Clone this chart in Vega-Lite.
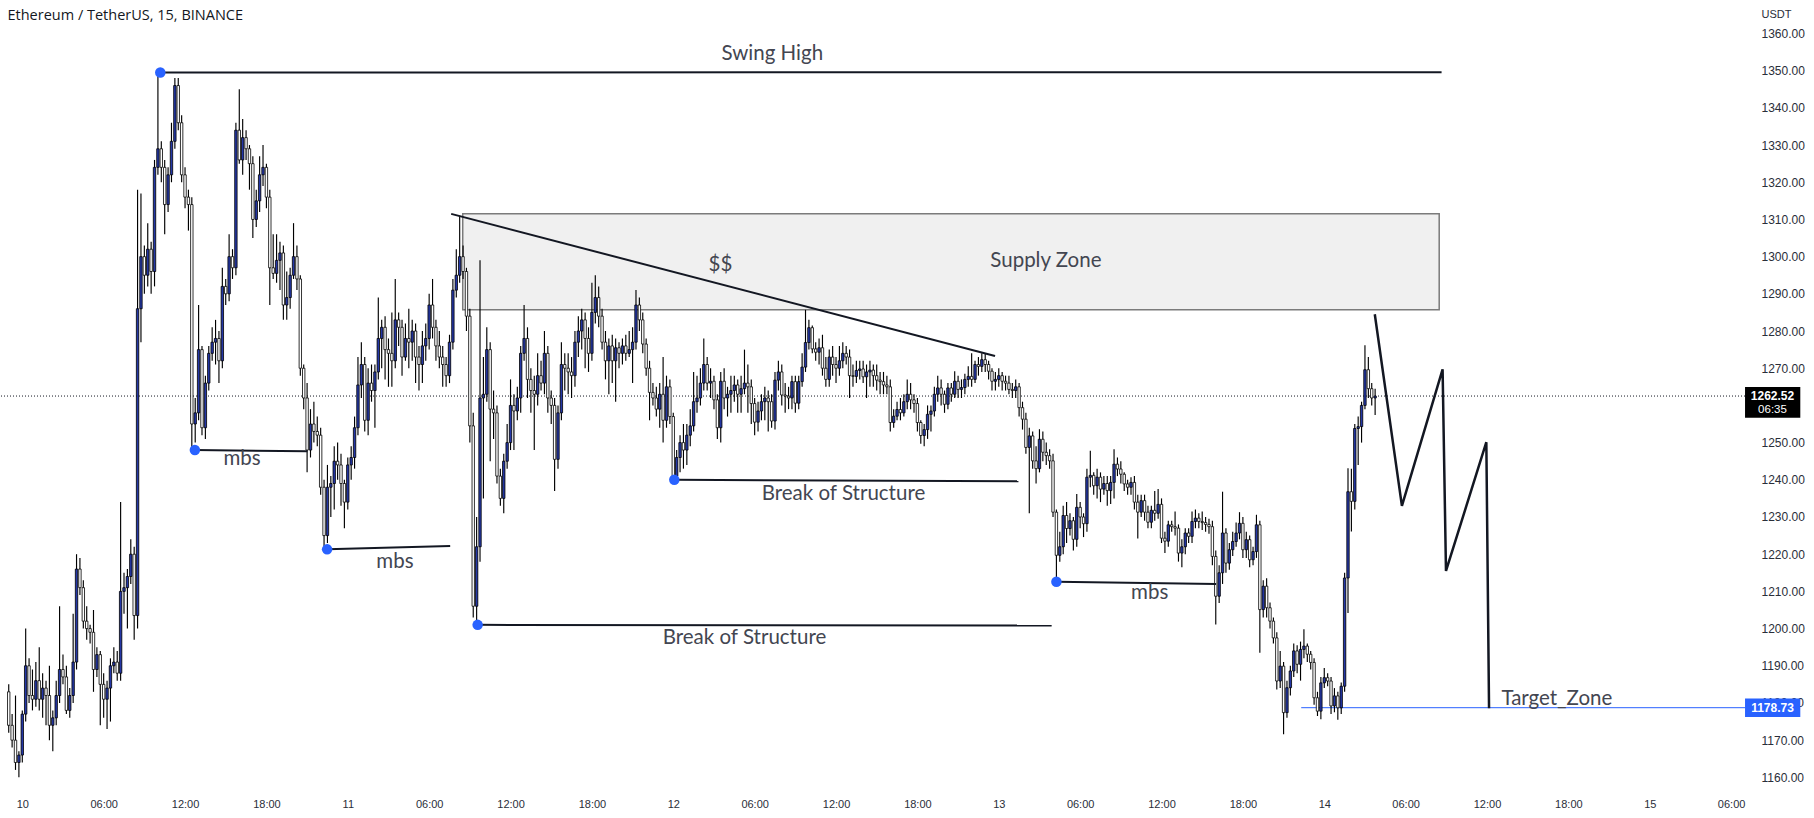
{
"$schema": "https://vega.github.io/schema/vega-lite/v6.json",
"width": 1748, "height": 790, "autosize": "none", "padding": {"left": 0, "top": 0, "right": 66, "bottom": 28}, "background": "white",
"title": {"text": "Ethereum / TetherUS, 15, BINANCE", "anchor": "start", "orient": "top", "offset": -30, "dx": 8, "fontSize": 14.5, "fontWeight": "normal", "font": "Open Sans", "color": "#131722", "baseline": "middle"},
"config": {"view": {"stroke": null}},
"resolve": {"axis": {"x": "independent", "y": "independent"}},
"datasets": {
"candles": [
{"i":-4,"o":1183,"h":1185,"l":1172,"c":1174},{"i":-3,"o":1174,"h":1177,"l":1168,"c":1170},{"i":-2,"o":1170,"h":1182,"l":1162,"c":1164},{"i":-1,"o":1164,"h":1167,"l":1160,"c":1166},
{"i":0,"o":1166,"h":1178,"l":1164,"c":1177},{"i":1,"o":1177,"h":1200,"l":1175,"c":1190},{"i":2,"o":1190,"h":1192,"l":1180,"c":1182},{"i":3,"o":1182,"h":1189,"l":1178,"c":1181},
{"i":4,"o":1181,"h":1191,"l":1179,"c":1186},{"i":5,"o":1186,"h":1195,"l":1178,"c":1181},{"i":6,"o":1181,"h":1188,"l":1176,"c":1184},{"i":7,"o":1184,"h":1186,"l":1174,"c":1182},
{"i":8,"o":1182,"h":1190,"l":1170,"c":1174},{"i":9,"o":1174,"h":1178,"l":1167,"c":1176},{"i":10,"o":1176,"h":1186,"l":1174,"c":1182},{"i":11,"o":1182,"h":1206,"l":1180,"c":1189},
{"i":12,"o":1189,"h":1193,"l":1185,"c":1187},{"i":13,"o":1187,"h":1190,"l":1177,"c":1178},{"i":14,"o":1178,"h":1184,"l":1176,"c":1182},{"i":15,"o":1182,"h":1204,"l":1180,"c":1191},
{"i":16,"o":1191,"h":1220,"l":1189,"c":1216},{"i":17,"o":1216,"h":1219,"l":1209,"c":1211},{"i":18,"o":1211,"h":1213,"l":1200,"c":1202},{"i":19,"o":1202,"h":1206,"l":1197,"c":1200},
{"i":20,"o":1200,"h":1201,"l":1196,"c":1199},{"i":21,"o":1199,"h":1205,"l":1183,"c":1189},{"i":22,"o":1189,"h":1195,"l":1187,"c":1193},{"i":23,"o":1193,"h":1194,"l":1174,"c":1185},
{"i":24,"o":1185,"h":1188,"l":1176,"c":1181},{"i":25,"o":1181,"h":1186,"l":1173,"c":1184},{"i":26,"o":1184,"h":1192,"l":1175,"c":1190},{"i":27,"o":1190,"h":1195,"l":1188,"c":1191},
{"i":28,"o":1191,"h":1194,"l":1186,"c":1188},{"i":29,"o":1188,"h":1234,"l":1186,"c":1210},{"i":30,"o":1210,"h":1215,"l":1204,"c":1211},{"i":31,"o":1211,"h":1216,"l":1200,"c":1214},
{"i":32,"o":1214,"h":1224,"l":1212,"c":1220},{"i":33,"o":1220,"h":1222,"l":1197,"c":1203.5},{"i":34,"o":1203.5,"h":1318,"l":1200,"c":1286},{"i":35,"o":1286,"h":1317,"l":1277,"c":1300},
{"i":36,"o":1300,"h":1303,"l":1290,"c":1295},{"i":37,"o":1295,"h":1309,"l":1292,"c":1302},{"i":38,"o":1302,"h":1304,"l":1290,"c":1296},{"i":39,"o":1296,"h":1326,"l":1292,"c":1324},
{"i":40,"o":1324,"h":1350,"l":1322,"c":1329},{"i":41,"o":1329,"h":1331,"l":1320,"c":1324},{"i":42,"o":1324,"h":1326,"l":1306,"c":1314},{"i":43,"o":1314,"h":1324,"l":1312,"c":1322},
{"i":44,"o":1322,"h":1336,"l":1320,"c":1331},{"i":45,"o":1331,"h":1348,"l":1329,"c":1346},{"i":46,"o":1346,"h":1348,"l":1334,"c":1336},{"i":47,"o":1336,"h":1338,"l":1320,"c":1322},
{"i":48,"o":1322,"h":1324,"l":1313,"c":1316},{"i":49,"o":1316,"h":1318,"l":1307,"c":1314},{"i":50,"o":1314,"h":1316,"l":1248,"c":1255},{"i":51,"o":1255,"h":1262,"l":1250,"c":1258},
{"i":52,"o":1258,"h":1287,"l":1256,"c":1275},{"i":53,"o":1275,"h":1276,"l":1252,"c":1254},{"i":54,"o":1254,"h":1268,"l":1251,"c":1266},{"i":55,"o":1266,"h":1276,"l":1264,"c":1274},
{"i":56,"o":1274,"h":1281,"l":1272,"c":1277},{"i":57,"o":1277,"h":1283,"l":1271,"c":1278},{"i":58,"o":1278,"h":1280,"l":1266,"c":1272},{"i":59,"o":1272,"h":1297,"l":1270,"c":1292},
{"i":60,"o":1292,"h":1294,"l":1287,"c":1290},{"i":61,"o":1290,"h":1306,"l":1288,"c":1300},{"i":62,"o":1300,"h":1302,"l":1294,"c":1297},{"i":63,"o":1297,"h":1336,"l":1295,"c":1334},
{"i":64,"o":1334,"h":1345,"l":1325,"c":1326},{"i":65,"o":1326,"h":1337,"l":1322,"c":1332},{"i":66,"o":1332,"h":1334,"l":1326,"c":1329},{"i":67,"o":1329,"h":1330,"l":1318,"c":1325},
{"i":68,"o":1325,"h":1327,"l":1305,"c":1310},{"i":69,"o":1310,"h":1318,"l":1308,"c":1315},{"i":70,"o":1315,"h":1327,"l":1312,"c":1322},{"i":71,"o":1322,"h":1330,"l":1319,"c":1324},
{"i":72,"o":1324,"h":1325,"l":1313,"c":1316},{"i":73,"o":1316,"h":1318,"l":1287,"c":1297},{"i":74,"o":1297,"h":1306,"l":1294,"c":1295.5},{"i":75,"o":1295.5,"h":1306,"l":1293,"c":1299},
{"i":76,"o":1299,"h":1304,"l":1291,"c":1301},{"i":77,"o":1301,"h":1303,"l":1283,"c":1287},{"i":78,"o":1287,"h":1296,"l":1283,"c":1289},{"i":79,"o":1289,"h":1297,"l":1286,"c":1295},
{"i":80,"o":1295,"h":1309,"l":1294,"c":1300},{"i":81,"o":1300,"h":1303,"l":1291,"c":1294},{"i":82,"o":1294,"h":1295,"l":1268,"c":1270},{"i":83,"o":1270,"h":1271,"l":1259,"c":1262},
{"i":84,"o":1262,"h":1266,"l":1242,"c":1248},{"i":85,"o":1248,"h":1259,"l":1246,"c":1255},{"i":86,"o":1255,"h":1261,"l":1250,"c":1253},{"i":87,"o":1253,"h":1257,"l":1249,"c":1252},
{"i":88,"o":1252,"h":1254,"l":1236,"c":1238},{"i":89,"o":1238,"h":1240,"l":1221,"c":1225},{"i":90,"o":1225,"h":1244,"l":1223,"c":1238},{"i":91,"o":1238,"h":1241,"l":1230,"c":1239},
{"i":92,"o":1239,"h":1249,"l":1232,"c":1245},{"i":93,"o":1245,"h":1250,"l":1240,"c":1244},{"i":94,"o":1244,"h":1247,"l":1233,"c":1239},{"i":95,"o":1239,"h":1240,"l":1227,"c":1234},
{"i":96,"o":1234,"h":1246,"l":1232,"c":1244},{"i":97,"o":1244,"h":1249,"l":1240,"c":1246},{"i":98,"o":1246,"h":1257,"l":1243,"c":1254},{"i":99,"o":1254,"h":1273,"l":1252,"c":1265.5},
{"i":100,"o":1265.5,"h":1277,"l":1262,"c":1271},{"i":101,"o":1271,"h":1273,"l":1253,"c":1256},{"i":102,"o":1256,"h":1270,"l":1252,"c":1266},{"i":103,"o":1266,"h":1271,"l":1261,"c":1264},
{"i":104,"o":1264,"h":1271,"l":1254,"c":1269},{"i":105,"o":1269,"h":1289,"l":1267,"c":1278},{"i":106,"o":1278,"h":1283,"l":1270,"c":1281},{"i":107,"o":1281,"h":1284,"l":1267,"c":1275},
{"i":108,"o":1275,"h":1278,"l":1265,"c":1274},{"i":109,"o":1274,"h":1285,"l":1265,"c":1272},{"i":110,"o":1272,"h":1294,"l":1270,"c":1283},{"i":111,"o":1283,"h":1285,"l":1276,"c":1281},
{"i":112,"o":1281,"h":1283,"l":1268,"c":1273},{"i":113,"o":1273,"h":1282,"l":1272,"c":1278},{"i":114,"o":1278,"h":1286,"l":1270,"c":1277},{"i":115,"o":1277,"h":1283,"l":1272,"c":1280},
{"i":116,"o":1280,"h":1282,"l":1266,"c":1273},{"i":117,"o":1273,"h":1276,"l":1264,"c":1271},{"i":118,"o":1271,"h":1280,"l":1266,"c":1276},{"i":119,"o":1276,"h":1282,"l":1272,"c":1278},
{"i":120,"o":1278,"h":1290,"l":1275,"c":1287},{"i":121,"o":1287,"h":1294,"l":1278,"c":1281},{"i":122,"o":1281,"h":1283,"l":1272,"c":1276},{"i":123,"o":1276,"h":1280,"l":1270,"c":1273},
{"i":124,"o":1273,"h":1276,"l":1265,"c":1271},{"i":125,"o":1271,"h":1273,"l":1265,"c":1268},{"i":126,"o":1268,"h":1279,"l":1266,"c":1277},{"i":127,"o":1277,"h":1294,"l":1275,"c":1291},
{"i":128,"o":1291,"h":1302,"l":1289,"c":1295},{"i":129,"o":1295,"h":1311,"l":1293,"c":1300},{"i":130,"o":1300,"h":1303,"l":1294,"c":1296},{"i":131,"o":1296,"h":1297,"l":1280,"c":1284},
{"i":132,"o":1284,"h":1286,"l":1250,"c":1254.5},{"i":133,"o":1254.5,"h":1258,"l":1203,"c":1206},{"i":134,"o":1206,"h":1230,"l":1201,"c":1222},{"i":135,"o":1222,"h":1299,"l":1218,"c":1262},
{"i":136,"o":1262,"h":1273,"l":1235,"c":1263},{"i":137,"o":1263,"h":1281,"l":1261,"c":1275},{"i":138,"o":1275,"h":1277,"l":1245,"c":1259},{"i":139,"o":1259,"h":1264,"l":1251,"c":1258},
{"i":140,"o":1258,"h":1260,"l":1239,"c":1241},{"i":141,"o":1241,"h":1243,"l":1233,"c":1235},{"i":142,"o":1235,"h":1247,"l":1231,"c":1245},{"i":143,"o":1245,"h":1255,"l":1243,"c":1250},
{"i":144,"o":1250,"h":1267,"l":1248,"c":1260},{"i":145,"o":1260,"h":1263,"l":1248,"c":1258.5},{"i":146,"o":1258.5,"h":1265,"l":1256,"c":1262},{"i":147,"o":1262,"h":1276,"l":1258,"c":1274},
{"i":148,"o":1274,"h":1287,"l":1272,"c":1278},{"i":149,"o":1278,"h":1281,"l":1262,"c":1267},{"i":150,"o":1267,"h":1270,"l":1258,"c":1264},{"i":151,"o":1264,"h":1268,"l":1248,"c":1263},
{"i":152,"o":1263,"h":1274,"l":1260,"c":1268},{"i":153,"o":1268,"h":1272,"l":1264,"c":1266},{"i":154,"o":1266,"h":1280,"l":1263,"c":1274},{"i":155,"o":1274,"h":1276,"l":1258,"c":1262},
{"i":156,"o":1262,"h":1264,"l":1255,"c":1260},{"i":157,"o":1260,"h":1262,"l":1237,"c":1245.5},{"i":158,"o":1245.5,"h":1260,"l":1243,"c":1258},{"i":159,"o":1258,"h":1277,"l":1256,"c":1271},
{"i":160,"o":1271,"h":1274,"l":1264,"c":1270},{"i":161,"o":1270,"h":1274,"l":1263,"c":1269},{"i":162,"o":1269,"h":1273,"l":1262,"c":1268},{"i":163,"o":1268,"h":1280,"l":1265,"c":1277},
{"i":164,"o":1277,"h":1284,"l":1273,"c":1280},{"i":165,"o":1280,"h":1286,"l":1275,"c":1283},{"i":166,"o":1283,"h":1285,"l":1270,"c":1278},{"i":167,"o":1278,"h":1281,"l":1269,"c":1274},
{"i":168,"o":1274,"h":1293,"l":1272,"c":1285},{"i":169,"o":1285,"h":1295,"l":1282,"c":1289},{"i":170,"o":1289,"h":1292,"l":1281,"c":1284},{"i":171,"o":1284,"h":1286,"l":1275,"c":1277},
{"i":172,"o":1277,"h":1280,"l":1267,"c":1272},{"i":173,"o":1272,"h":1278,"l":1263,"c":1276},{"i":174,"o":1276,"h":1279,"l":1266,"c":1272},{"i":175,"o":1272,"h":1278,"l":1261,"c":1275.5},
{"i":176,"o":1275.5,"h":1277,"l":1270,"c":1274},{"i":177,"o":1274,"h":1278,"l":1271,"c":1276},{"i":178,"o":1276,"h":1279,"l":1272,"c":1274},{"i":179,"o":1274,"h":1280,"l":1273,"c":1275},
{"i":180,"o":1275,"h":1281,"l":1266,"c":1277},{"i":181,"o":1277,"h":1291,"l":1275,"c":1287},{"i":182,"o":1287,"h":1289,"l":1280,"c":1283},{"i":183,"o":1283,"h":1285,"l":1274,"c":1276.5},
{"i":184,"o":1276.5,"h":1278,"l":1268,"c":1270},{"i":185,"o":1270,"h":1272,"l":1256,"c":1263.5},{"i":186,"o":1263.5,"h":1266,"l":1260,"c":1262},{"i":187,"o":1262,"h":1265,"l":1257,"c":1259},
{"i":188,"o":1259,"h":1266,"l":1254,"c":1263},{"i":189,"o":1263,"h":1273,"l":1250,"c":1256},{"i":190,"o":1256,"h":1268,"l":1254,"c":1265},{"i":191,"o":1265,"h":1267,"l":1255,"c":1257},
{"i":192,"o":1257,"h":1258,"l":1239,"c":1241},{"i":193,"o":1241,"h":1248,"l":1240,"c":1246},{"i":194,"o":1246,"h":1252,"l":1242,"c":1250},{"i":195,"o":1250,"h":1255,"l":1243,"c":1248},
{"i":196,"o":1248,"h":1255,"l":1244,"c":1252},{"i":197,"o":1252,"h":1259,"l":1249,"c":1254.5},{"i":198,"o":1254.5,"h":1269,"l":1253,"c":1261},{"i":199,"o":1261,"h":1268,"l":1258,"c":1262},
{"i":200,"o":1262,"h":1270,"l":1260,"c":1266},{"i":201,"o":1266,"h":1278,"l":1264,"c":1271},{"i":202,"o":1271,"h":1273,"l":1264,"c":1266},{"i":203,"o":1266,"h":1270,"l":1262,"c":1266.5},
{"i":204,"o":1266.5,"h":1268,"l":1259,"c":1261.5},{"i":205,"o":1261.5,"h":1263,"l":1251,"c":1254},{"i":206,"o":1254,"h":1269,"l":1250,"c":1266.5},{"i":207,"o":1266.5,"h":1270,"l":1259,"c":1262},
{"i":208,"o":1262,"h":1265,"l":1257,"c":1263},{"i":209,"o":1263,"h":1268,"l":1258,"c":1264},{"i":210,"o":1264,"h":1268,"l":1261,"c":1265.5},{"i":211,"o":1265.5,"h":1267,"l":1258,"c":1263},
{"i":212,"o":1263,"h":1268,"l":1258,"c":1264.5},{"i":213,"o":1264.5,"h":1275,"l":1263,"c":1266},{"i":214,"o":1266,"h":1271,"l":1258,"c":1265},{"i":215,"o":1265,"h":1267,"l":1255,"c":1260.5},
{"i":216,"o":1260.5,"h":1262,"l":1252,"c":1255.5},{"i":217,"o":1255.5,"h":1261,"l":1253,"c":1258.5},{"i":218,"o":1258.5,"h":1263,"l":1256,"c":1261},{"i":219,"o":1261,"h":1265,"l":1256,"c":1262},
{"i":220,"o":1262,"h":1264,"l":1253,"c":1261},{"i":221,"o":1261,"h":1263,"l":1254,"c":1255.8},{"i":222,"o":1255.8,"h":1269,"l":1253.5,"c":1266.8},{"i":223,"o":1266.8,"h":1272,"l":1264,"c":1269},
{"i":224,"o":1269,"h":1271,"l":1260,"c":1262.8},{"i":225,"o":1262.8,"h":1266,"l":1258,"c":1262.5},{"i":226,"o":1262.5,"h":1265,"l":1259,"c":1262},{"i":227,"o":1262,"h":1268,"l":1259,"c":1266.4},
{"i":228,"o":1266.4,"h":1268,"l":1258,"c":1260.6},{"i":229,"o":1260.6,"h":1268,"l":1259,"c":1266.4},{"i":230,"o":1266.4,"h":1274,"l":1265,"c":1270.3},{"i":231,"o":1270.3,"h":1285.7,"l":1269,"c":1276.9},
{"i":232,"o":1276.9,"h":1283,"l":1275,"c":1280.9},{"i":233,"o":1280.9,"h":1281.5,"l":1274,"c":1275.2},{"i":234,"o":1275.2,"h":1277,"l":1272,"c":1274.3},{"i":235,"o":1274.3,"h":1278,"l":1271,"c":1275.5},
{"i":236,"o":1275.5,"h":1279,"l":1268,"c":1270},{"i":237,"o":1270,"h":1273,"l":1265,"c":1267},{"i":238,"o":1267,"h":1275,"l":1265,"c":1273},{"i":239,"o":1273,"h":1276,"l":1268,"c":1271},
{"i":240,"o":1271,"h":1273,"l":1266,"c":1270},{"i":241,"o":1270,"h":1276,"l":1268,"c":1272},{"i":242,"o":1272,"h":1277,"l":1270,"c":1274},{"i":243,"o":1274,"h":1276,"l":1271,"c":1273},
{"i":244,"o":1273,"h":1275,"l":1262,"c":1268},{"i":245,"o":1268,"h":1271,"l":1265,"c":1267.8},{"i":246,"o":1267.8,"h":1272,"l":1266,"c":1269.4},{"i":247,"o":1269.4,"h":1272,"l":1267,"c":1269.8},
{"i":248,"o":1269.8,"h":1272,"l":1266,"c":1267.7},{"i":249,"o":1267.7,"h":1271,"l":1262,"c":1269},{"i":250,"o":1269,"h":1272,"l":1265,"c":1269.5},{"i":251,"o":1269.5,"h":1271,"l":1265,"c":1268},
{"i":252,"o":1268,"h":1271,"l":1264,"c":1266.8},{"i":253,"o":1266.8,"h":1269,"l":1263,"c":1266.4},{"i":254,"o":1266.4,"h":1269,"l":1263,"c":1265.5},{"i":255,"o":1265.5,"h":1268,"l":1263,"c":1265},
{"i":256,"o":1265,"h":1267,"l":1253,"c":1255.4},{"i":257,"o":1255.4,"h":1259,"l":1254,"c":1257.1},{"i":258,"o":1257.1,"h":1261,"l":1256,"c":1258.9},{"i":259,"o":1258.9,"h":1262,"l":1256,"c":1258},
{"i":260,"o":1258,"h":1263,"l":1257,"c":1261},{"i":261,"o":1261,"h":1267,"l":1259,"c":1263},{"i":262,"o":1263,"h":1266,"l":1259,"c":1261.5},{"i":263,"o":1261.5,"h":1263,"l":1258,"c":1260.5},
{"i":264,"o":1260.5,"h":1262,"l":1253,"c":1255.4},{"i":265,"o":1255.4,"h":1256,"l":1249.7,"c":1251.9},{"i":266,"o":1251.9,"h":1255,"l":1249,"c":1253.5},{"i":267,"o":1253.5,"h":1260,"l":1251,"c":1257.6},
{"i":268,"o":1257.6,"h":1260,"l":1253,"c":1258.5},{"i":269,"o":1258.5,"h":1265,"l":1257,"c":1263},{"i":270,"o":1263,"h":1268,"l":1261,"c":1264.7},{"i":271,"o":1264.7,"h":1267,"l":1260,"c":1263},
{"i":272,"o":1263,"h":1264,"l":1258,"c":1260.3},{"i":273,"o":1260.3,"h":1266,"l":1259,"c":1264.7},{"i":274,"o":1264.7,"h":1266,"l":1261,"c":1263},{"i":275,"o":1263,"h":1269.2,"l":1262,"c":1266.5},
{"i":276,"o":1266.5,"h":1268,"l":1262,"c":1264.3},{"i":277,"o":1264.3,"h":1267,"l":1262,"c":1264.8},{"i":278,"o":1264.8,"h":1268.5,"l":1263,"c":1267},{"i":279,"o":1267,"h":1270.5,"l":1265,"c":1267.8},
{"i":280,"o":1267.8,"h":1274,"l":1265,"c":1267},{"i":281,"o":1267,"h":1272,"l":1266,"c":1271},{"i":282,"o":1271,"h":1273,"l":1268,"c":1270.5},{"i":283,"o":1270.5,"h":1274,"l":1269,"c":1272.3},
{"i":284,"o":1272.3,"h":1274,"l":1269,"c":1271},{"i":285,"o":1271,"h":1272,"l":1267,"c":1269.2},{"i":286,"o":1269.2,"h":1270,"l":1264,"c":1266.5},{"i":287,"o":1266.5,"h":1269,"l":1264,"c":1267},
{"i":288,"o":1267,"h":1270,"l":1265,"c":1268},{"i":289,"o":1268,"h":1269,"l":1264,"c":1266.5},{"i":290,"o":1266.5,"h":1268,"l":1264,"c":1266},{"i":291,"o":1266,"h":1268,"l":1263,"c":1264.3},
{"i":292,"o":1264.3,"h":1266,"l":1262,"c":1264},{"i":293,"o":1264,"h":1267,"l":1262,"c":1265},{"i":294,"o":1265,"h":1266,"l":1257,"c":1259.4},{"i":295,"o":1259.4,"h":1261,"l":1253.5,"c":1256.3},
{"i":296,"o":1256.3,"h":1258,"l":1247,"c":1248.7},{"i":297,"o":1248.7,"h":1254,"l":1231,"c":1251.8},{"i":298,"o":1251.8,"h":1253,"l":1243,"c":1245.1},{"i":299,"o":1245.1,"h":1249,"l":1239,"c":1243},
{"i":300,"o":1243,"h":1253.6,"l":1242,"c":1250.9},{"i":301,"o":1250.9,"h":1253,"l":1245,"c":1247.4},{"i":302,"o":1247.4,"h":1250,"l":1244,"c":1246.5},{"i":303,"o":1246.5,"h":1248.2,"l":1243,"c":1245.1},
{"i":304,"o":1245.1,"h":1247,"l":1230,"c":1231.3},{"i":305,"o":1231.3,"h":1232,"l":1212.6,"c":1219.7},{"i":306,"o":1219.7,"h":1226,"l":1218,"c":1222},{"i":307,"o":1222,"h":1233,"l":1220,"c":1230.4},
{"i":308,"o":1230.4,"h":1234,"l":1223,"c":1226.9},{"i":309,"o":1226.9,"h":1231,"l":1225,"c":1229},{"i":310,"o":1229,"h":1230,"l":1221,"c":1224},{"i":311,"o":1224,"h":1236.2,"l":1222,"c":1232.6},
{"i":312,"o":1232.6,"h":1234,"l":1227,"c":1230},{"i":313,"o":1230,"h":1231,"l":1224.6,"c":1228.2},{"i":314,"o":1228.2,"h":1243,"l":1226,"c":1240.7},{"i":315,"o":1240.7,"h":1247.8,"l":1238,"c":1241.2},
{"i":316,"o":1241.2,"h":1242,"l":1236,"c":1238.4},{"i":317,"o":1238.4,"h":1243,"l":1235,"c":1240.7},{"i":318,"o":1240.7,"h":1242,"l":1234,"c":1237.5},{"i":319,"o":1237.5,"h":1241,"l":1236,"c":1239},
{"i":320,"o":1239,"h":1241,"l":1233,"c":1237.1},{"i":321,"o":1237.1,"h":1241,"l":1233.5,"c":1239.3},{"i":322,"o":1239.3,"h":1248.2,"l":1235,"c":1244.2},{"i":323,"o":1244.2,"h":1246,"l":1241,"c":1242.9},
{"i":324,"o":1242.9,"h":1245,"l":1239,"c":1241.5},{"i":325,"o":1241.5,"h":1242,"l":1237,"c":1238.9},{"i":326,"o":1238.9,"h":1240,"l":1236,"c":1238},{"i":327,"o":1238,"h":1240.7,"l":1236,"c":1239.3},
{"i":328,"o":1239.3,"h":1241,"l":1232,"c":1234},{"i":329,"o":1234,"h":1236,"l":1224.2,"c":1231.3},{"i":330,"o":1231.3,"h":1236,"l":1230,"c":1234.4},{"i":331,"o":1234.4,"h":1236,"l":1229,"c":1231.3},
{"i":332,"o":1231.3,"h":1233,"l":1227,"c":1228.6},{"i":333,"o":1228.6,"h":1233,"l":1227,"c":1231.8},{"i":334,"o":1231.8,"h":1237,"l":1229,"c":1231},{"i":335,"o":1231,"h":1237.5,"l":1229.5,"c":1233.4},
{"i":336,"o":1233.4,"h":1235,"l":1223,"c":1224.3},{"i":337,"o":1224.3,"h":1226,"l":1220.3,"c":1223.5},{"i":338,"o":1223.5,"h":1229,"l":1222,"c":1227.9},{"i":339,"o":1227.9,"h":1229,"l":1226,"c":1227.4},
{"i":340,"o":1227.4,"h":1231.5,"l":1225,"c":1227},{"i":341,"o":1227,"h":1228,"l":1218,"c":1220.3},{"i":342,"o":1220.3,"h":1224,"l":1216.5,"c":1222},{"i":343,"o":1222,"h":1227,"l":1220,"c":1225.7},
{"i":344,"o":1225.7,"h":1227,"l":1223,"c":1224.8},{"i":345,"o":1224.8,"h":1231.5,"l":1223,"c":1228.8},{"i":346,"o":1228.8,"h":1232,"l":1227,"c":1229.7},{"i":347,"o":1229.7,"h":1231,"l":1227,"c":1228.8},
{"i":348,"o":1228.8,"h":1231.5,"l":1226.5,"c":1228.5},{"i":349,"o":1228.5,"h":1230,"l":1226,"c":1228},{"i":350,"o":1228,"h":1229.5,"l":1225.5,"c":1227.4},{"i":351,"o":1227.4,"h":1229,"l":1217,"c":1219.4},
{"i":352,"o":1219.4,"h":1221,"l":1201.1,"c":1208.7},{"i":353,"o":1208.7,"h":1217,"l":1206.9,"c":1215},{"i":354,"o":1215,"h":1236.8,"l":1212,"c":1225.7},{"i":355,"o":1225.7,"h":1227,"l":1215,"c":1217.6},
{"i":356,"o":1217.6,"h":1223,"l":1215.8,"c":1221.2},{"i":357,"o":1221.2,"h":1226,"l":1219.5,"c":1223.4},{"i":358,"o":1223.4,"h":1228.5,"l":1222,"c":1225.7},{"i":359,"o":1225.7,"h":1231.3,"l":1224,"c":1228.3},
{"i":360,"o":1228.3,"h":1230,"l":1219,"c":1221.2},{"i":361,"o":1221.2,"h":1226,"l":1219,"c":1223.9},{"i":362,"o":1223.9,"h":1225,"l":1216.5,"c":1218.5},{"i":363,"o":1218.5,"h":1222,"l":1217,"c":1220.7},
{"i":364,"o":1220.7,"h":1230.6,"l":1219,"c":1227.9},{"i":365,"o":1227.9,"h":1229,"l":1193.5,"c":1205.1},{"i":366,"o":1205.1,"h":1213,"l":1203,"c":1211.4},{"i":367,"o":1211.4,"h":1213.5,"l":1203,"c":1205.6},
{"i":368,"o":1205.6,"h":1207,"l":1200,"c":1202},{"i":369,"o":1202,"h":1203,"l":1196,"c":1197.5},{"i":370,"o":1197.5,"h":1199,"l":1183.6,"c":1185.9},{"i":371,"o":1185.9,"h":1194,"l":1184,"c":1189.9},
{"i":372,"o":1189.9,"h":1191,"l":1171.6,"c":1177.4},{"i":373,"o":1177.4,"h":1186,"l":1176,"c":1184.1},{"i":374,"o":1184.1,"h":1190,"l":1182,"c":1188.6},{"i":375,"o":1188.6,"h":1196,"l":1187,"c":1194},
{"i":376,"o":1194,"h":1195.5,"l":1188,"c":1190.4},{"i":377,"o":1190.4,"h":1196.5,"l":1186,"c":1194.4},{"i":378,"o":1194.4,"h":1199.8,"l":1192,"c":1195.3},{"i":379,"o":1195.3,"h":1196,"l":1191,"c":1193.1},
{"i":380,"o":1193.1,"h":1194,"l":1189,"c":1190.9},{"i":381,"o":1190.9,"h":1192,"l":1179.5,"c":1181.4},{"i":382,"o":1181.4,"h":1183,"l":1176.5,"c":1177.8},{"i":383,"o":1177.8,"h":1187,"l":1175.6,"c":1185.4},
{"i":384,"o":1185.4,"h":1189.4,"l":1184,"c":1186.8},{"i":385,"o":1186.8,"h":1188,"l":1184.5,"c":1185.9},{"i":386,"o":1185.9,"h":1187,"l":1177,"c":1179.2},{"i":387,"o":1179.2,"h":1184,"l":1177.5,"c":1181.9},
{"i":388,"o":1181.9,"h":1183,"l":1175.5,"c":1178.7},{"i":389,"o":1178.7,"h":1185.5,"l":1177,"c":1184.5},{"i":390,"o":1184.5,"h":1215,"l":1183,"c":1213.6},{"i":391,"o":1213.6,"h":1243.1,"l":1204.2,"c":1236.8},
{"i":392,"o":1236.8,"h":1243,"l":1226.1,"c":1234.2},{"i":393,"o":1234.2,"h":1255,"l":1232,"c":1253.8},{"i":394,"o":1253.8,"h":1257,"l":1244,"c":1254.3},{"i":395,"o":1254.3,"h":1261,"l":1250,"c":1260},
{"i":396,"o":1260,"h":1276.2,"l":1259,"c":1269.6},{"i":397,"o":1269.6,"h":1273,"l":1262,"c":1264.5},{"i":398,"o":1264.5,"h":1266,"l":1260,"c":1262},{"i":399,"o":1262,"h":1264.5,"l":1257.4,"c":1262.52}
],
"zone": [{"i1":129.9,"i2":417.9,"top":1311.5,"bot":1285.7}],
"last": [{"p":1262.52}],
"segs": [
{"name":"Swing High","i1":40.7,"p1":1349.5,"i2":418.6,"p2":1349.6},
{"name":"mbs 1","i1":50.9,"p1":1248,"i2":84.1,"p2":1247.7},
{"name":"mbs 2","i1":89.9,"p1":1221.3,"i2":126.2,"p2":1222.2},
{"name":"Break of Structure 1","i1":134.3,"p1":1201,"i2":303.6,"p2":1200.8},
{"name":"Break of Structure 2","i1":192.3,"p1":1240,"i2":293.8,"p2":1239.6},
{"name":"mbs 3","i1":305,"p1":1212.6,"i2":352.1,"p2":1212},
{"name":"Trendline","i1":126.5,"p1":1311.5,"i2":286.9,"p2":1273.3}
],
"dots": [{"i":40.7,"p":1349.5},{"i":50.9,"p":1248},{"i":89.9,"p":1221.3},{"i":134.3,"p":1201},{"i":192.3,"p":1240},{"i":305,"p":1212.6}],
"zigzag": [{"k":1,"i":398.9,"p":1284.5},{"k":2,"i":406.9,"p":1233},{"k":3,"i":418.9,"p":1269.7},{"k":4,"i":419.9,"p":1215.5},{"k":5,"i":431.8,"p":1250.1},{"k":6,"i":432.6,"p":1178.6}],
"target": [{"i1":377.2,"i2":508.1,"p":1178.73}],
"labels": [
{"text":"Swing High","i":221.2,"p":1354.4},
{"text":"$$","i":205.9,"p":1297.8},
{"text":"Supply Zone","i":301.9,"p":1298.7},
{"text":"mbs","i":64.8,"p":1245.5},
{"text":"mbs","i":109.9,"p":1217.9},
{"text":"Break of Structure","i":242.2,"p":1236.2},
{"text":"Break of Structure","i":213,"p":1197.6},
{"text":"mbs","i":332.5,"p":1209.5},
{"text":"Target_Zone","i":452.6,"p":1181.2}
],
"tags": [
{"p":1262.52,"top":1264.95,"bot":1256.7,"text":"1262.52","ty":1262.4,"sub":"06:35","sy":1258.7},
{"p":1178.73,"top":1181.2,"bot":1176.2,"text":"1178.73","ty":1178.7,"sub":"","sy":1178.7}
]
},
"layer": [
{
"data": {"name": "zone"},
"mark": {"type": "rect", "fill": "#f0f0f0", "stroke": "#7b7b7b", "strokeWidth": 1.5},
"encoding": {
"x": {"field": "i1", "type": "quantitative", "scale": {"domain": [-5.1, 507.5], "nice": false, "zero": false},
"axis": {"title": null, "values": [0,24,48,72,96,120,144,168,192,216,240,264,288,312,336,360,384,408,432,456,480,504],
"labelExpr": "datum.value % 96 === 0 ? '' + (10 + datum.value / 96) : (datum.value % 96 === 24 ? '06:00' : (datum.value % 96 === 48 ? '12:00' : '18:00'))",
"grid": false, "ticks": false, "domain": false, "labelPadding": 8, "labelFontSize": 11, "labelFont": "Liberation Sans", "labelColor": "#2a2e39", "labelFlush": false, "labelOverlap": false}},
"x2": {"field": "i2"},
"y": {"field": "top", "type": "quantitative", "scale": {"domain": [1156.6, 1369], "nice": false, "zero": false},
"axis": {"orient": "right", "title": "USDT", "titleAngle": 0, "titleAlign": "left", "titleBaseline": "middle", "titleX": 13, "titleY": 14, "titleFont": "Liberation Sans", "titleFontSize": 11, "titleFontWeight": "normal", "titleColor": "#2a2e39",
"values": [1160,1170,1180,1190,1200,1210,1220,1230,1240,1250,1270,1280,1290,1300,1310,1320,1330,1340,1350,1360],
"format": ".2f", "grid": false, "ticks": false, "domain": false, "labelPadding": 13, "labelFontSize": 12, "labelFont": "Liberation Sans", "labelColor": "#2a2e39", "labelOverlap": false, "labelBound": false}},
"y2": {"field": "bot"}
}
},
{
"data": {"name": "last"},
"mark": {"type": "rule", "stroke": "#131722", "strokeWidth": 1, "strokeDash": [1, 2]},
"encoding": {"y": {"field": "p", "type": "quantitative", "axis": null}}
},
{
"data": {"name": "target"},
"mark": {"type": "rule", "stroke": "#2962ff", "strokeWidth": 1},
"encoding": {"x": {"field": "i1", "type": "quantitative", "axis": null}, "x2": {"field": "i2"}, "y": {"field": "p", "type": "quantitative", "axis": null}}
},
{
"data": {"name": "candles"},
"mark": {"type": "rule", "stroke": "#000000", "strokeWidth": 1.15},
"encoding": {"x": {"field": "i", "type": "quantitative", "axis": null}, "y": {"field": "l", "type": "quantitative", "axis": null}, "y2": {"field": "h"}}
},
{
"data": {"name": "candles"},
"mark": {"type": "bar", "size": 2.4, "stroke": "#000000", "strokeWidth": 0.8},
"encoding": {
"x": {"field": "i", "type": "quantitative", "axis": null},
"y": {"field": "o", "type": "quantitative", "axis": null},
"y2": {"field": "c"},
"fill": {"condition": {"test": "datum.c > datum.o", "value": "#2437a6"}, "value": "#ffffff"}
}
},
{
"data": {"name": "segs"},
"mark": {"type": "rule", "stroke": "#131722", "strokeWidth": 2},
"encoding": {"x": {"field": "i1", "type": "quantitative", "axis": null}, "x2": {"field": "i2"}, "y": {"field": "p1", "type": "quantitative", "axis": null}, "y2": {"field": "p2"}}
},
{
"data": {"name": "zigzag"},
"mark": {"type": "line", "stroke": "#131722", "strokeWidth": 2.5},
"encoding": {"x": {"field": "i", "type": "quantitative", "axis": null}, "y": {"field": "p", "type": "quantitative", "axis": null}, "order": {"field": "k"}}
},
{
"data": {"name": "dots"},
"mark": {"type": "point", "filled": true, "fill": "#2962ff", "size": 110, "opacity": 1, "strokeWidth": 0},
"encoding": {"x": {"field": "i", "type": "quantitative", "axis": null}, "y": {"field": "p", "type": "quantitative", "axis": null}}
},
{
"data": {"name": "labels"},
"mark": {"type": "text", "font": "Lato", "fontSize": 20.5, "fill": "#434651", "align": "center", "baseline": "middle"},
"encoding": {"x": {"field": "i", "type": "quantitative", "axis": null}, "y": {"field": "p", "type": "quantitative", "axis": null}, "text": {"field": "text"}}
},
{
"data": {"name": "tags"},
"mark": {"type": "rect"},
"encoding": {"x": {"datum": 508.1, "type": "quantitative", "axis": null}, "x2": {"datum": 524.4}, "y": {"field": "top", "type": "quantitative", "axis": null}, "y2": {"field": "bot"},
"fill": {"condition": {"test": "datum.p > 1200", "value": "#000000"}, "value": "#2962ff"}}
},
{
"data": {"name": "tags"},
"mark": {"type": "text", "font": "Liberation Sans", "fontSize": 12, "fontWeight": "bold", "fill": "#ffffff", "align": "center", "baseline": "middle"},
"encoding": {"x": {"datum": 516.2, "type": "quantitative", "axis": null}, "y": {"field": "ty", "type": "quantitative", "axis": null}, "text": {"field": "text"}}
},
{
"data": {"name": "tags"},
"mark": {"type": "text", "font": "Liberation Sans", "fontSize": 11.5, "fill": "#ffffff", "align": "center", "baseline": "middle"},
"encoding": {"x": {"datum": 516.2, "type": "quantitative", "axis": null}, "y": {"field": "sy", "type": "quantitative", "axis": null}, "text": {"field": "sub"}}
}
]
}
